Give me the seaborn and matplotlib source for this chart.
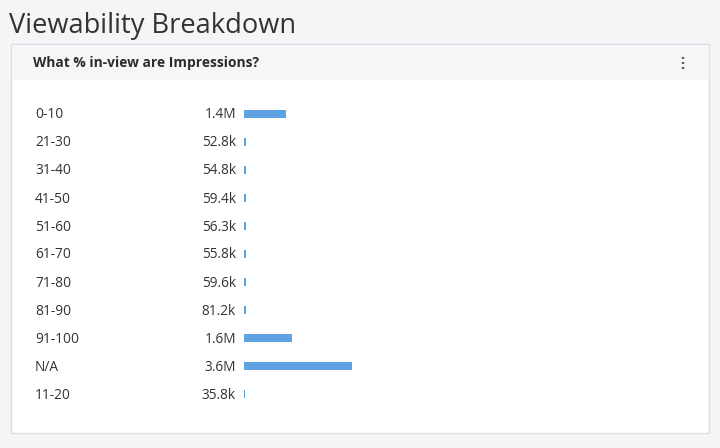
import matplotlib
matplotlib.use("Agg")
import matplotlib.pyplot as plt
import matplotlib.transforms as mtransforms
from matplotlib.patches import Rectangle, Circle
import seaborn as sns
import pandas as pd

categories = ["0-10", "21-30", "31-40", "41-50", "51-60", "61-70",
              "71-80", "81-90", "91-100", "N/A", "11-20"]
values = [1.4e6, 52.8e3, 54.8e3, 59.4e3, 56.3e3, 55.8e3,
          59.6e3, 81.2e3, 1.6e6, 3.6e6, 35.8e3]
value_labels = ["1.4M", "52.8k", "54.8k", "59.4k", "56.3k", "55.8k",
                "59.6k", "81.2k", "1.6M", "3.6M", "35.8k"]

title = "Viewability Breakdown"
card_title = "What % in-view are Impressions?"

sns.set_theme(style="white")
plt.rcParams["font.family"] = ["Open Sans", "DejaVu Sans"]

W, H = 720, 448
fig = plt.figure(figsize=(W / 100, H / 100), dpi=100)
fig.patch.set_facecolor("#f4f5f7")

def fx(px):
    return px / W

def fy(py):
    return 1 - py / H

# card
fig.patches.append(Rectangle((fx(11), fy(433)), fx(709) - fx(11), fy(44) - fy(433),
                             transform=fig.transFigure, facecolor="white",
                             edgecolor="#dcdee2", linewidth=1, zorder=-3))
fig.patches.append(Rectangle((fx(12), fy(80)), fx(708) - fx(12), fy(45) - fy(80),
                             transform=fig.transFigure, facecolor="#f5f6f8",
                             edgecolor="none", zorder=-2))

fig.text(fx(9), fy(26), title, fontsize=19.6, color="#333333", va="center", ha="left")
fig.text(fx(33), fy(63), card_title, fontsize=9.9, fontweight="bold",
         color="#2b2b2b", va="center", ha="left")
for dy in (-5, 0, 5):
    fig.patches.append(Circle((fx(683), fy(63 + dy)), 1.4 / W, transform=fig.transFigure,
                              facecolor="#333333", edgecolor="none"))

# bar axes
top_px, bottom_px = 100, 408
left_px, right_px = 244, 352
ax = fig.add_axes([fx(left_px), fy(bottom_px), fx(right_px) - fx(left_px),
                   (bottom_px - top_px) / H])
ax.set_zorder(2)
df = pd.DataFrame({"category": categories, "value": values})
sns.barplot(data=df, x="value", y="category", orient="h", color="#5da3e4",
            width=0.29, saturation=1, ax=ax, linewidth=0)
ax.set_xlim(0, 3.6e6)
ax.set_ylim(len(categories) - 0.5, -0.5)
ax.axis("off")
ax.patch.set_alpha(0)

trans = mtransforms.blended_transform_factory(fig.transFigure, ax.transData)
offset = mtransforms.ScaledTranslation(0, -1 / 100, fig.dpi_scale_trans)
for i, (c, vl) in enumerate(zip(categories, value_labels)):
    ax.text(fx(35), i, c, transform=trans + offset, fontsize=9.9, color="#333333",
            va="center", ha="left", clip_on=False)
    ax.text(fx(236), i, vl, transform=trans + offset, fontsize=9.8, color="#333333",
            va="center", ha="right", clip_on=False)

fig.savefig("out.png", dpi=100, facecolor=fig.get_facecolor())
